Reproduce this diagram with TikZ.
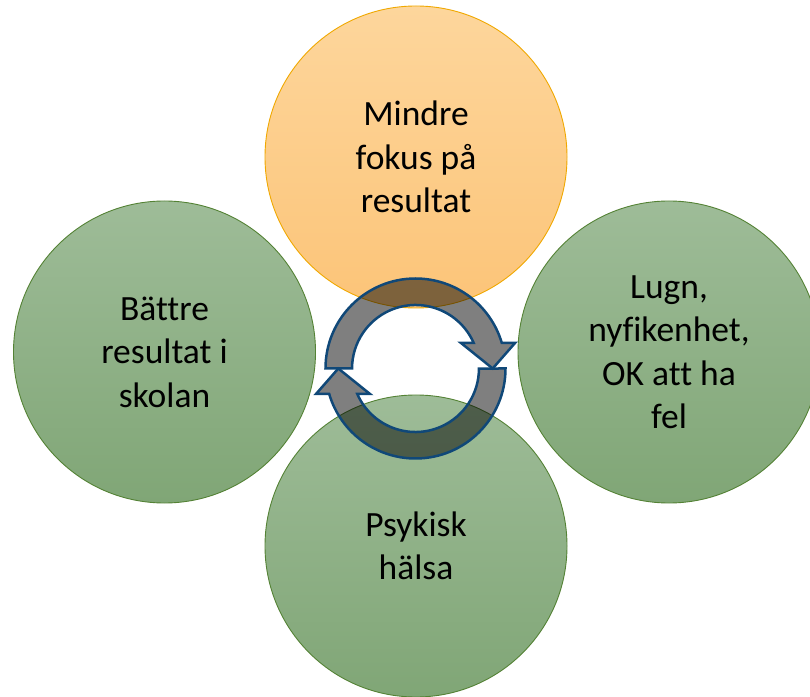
\documentclass[tikz,border=0pt]{standalone}
\usepackage{fontspec}
\setmainfont{Carlito}[RawFeature=-liga]
\definecolor{gtop}{RGB}{158,188,152}
\definecolor{gbot}{RGB}{128,166,118}
\definecolor{gline}{RGB}{84,130,53}
\definecolor{otop}{RGB}{253,214,156}
\definecolor{obot}{RGB}{252,196,120}
\definecolor{oline}{RGB}{240,168,0}
\definecolor{aline}{RGB}{16,72,120}
\begin{document}
\begin{tikzpicture}[x=1pt,y=1pt,
  bubble/.style={circle, minimum size=302pt, inner sep=0pt, align=center,
    font=\fontsize{35.5}{43.5}\selectfont, line width=0.9pt},
  greenb/.style={bubble, draw=gline, top color=gtop, bottom color=gbot},
  orangeb/.style={bubble, draw=oline, top color=otop, bottom color=obot},
  cyc/.style={fill=black, fill opacity=0.5, draw=aline, line width=2.5pt, line join=miter}]
\useasboundingbox (0,0) rectangle (810,696);
\node[orangeb] (t) at (416,539) {Mindre\\fokus på\\resultat};
\node[greenb] (l) at (164.5,344) {Bättre\\resultat i\\skolan};
\node[greenb] (r) at (669,344) {Lugn,\\nyfikenhet,\\OK att ha\\fel};
\node[greenb] (b) at (416,150) {Psykisk\\hälsa};
\coordinate (c) at (415.5,327.5);
\begin{scope}[shift={(415.5,327.5)}]
  \draw[cyc] (-90,0) arc[start angle=180,end angle=16.46,radius=90]
    -- (99.5,25.5) -- (77.2,0) -- (45.5,25.5) -- (58.2,25.5)
    arc[start angle=23.67,end angle=180,radius=63.5] -- cycle;
\end{scope}
\begin{scope}[shift={(415.5,327.5)}, rotate=180]
  \draw[cyc] (-90,0) arc[start angle=180,end angle=16.46,radius=90]
    -- (99.5,25.5) -- (77.2,0) -- (45.5,25.5) -- (58.2,25.5)
    arc[start angle=23.67,end angle=180,radius=63.5] -- cycle;
\end{scope}
\end{tikzpicture}
\end{document}
